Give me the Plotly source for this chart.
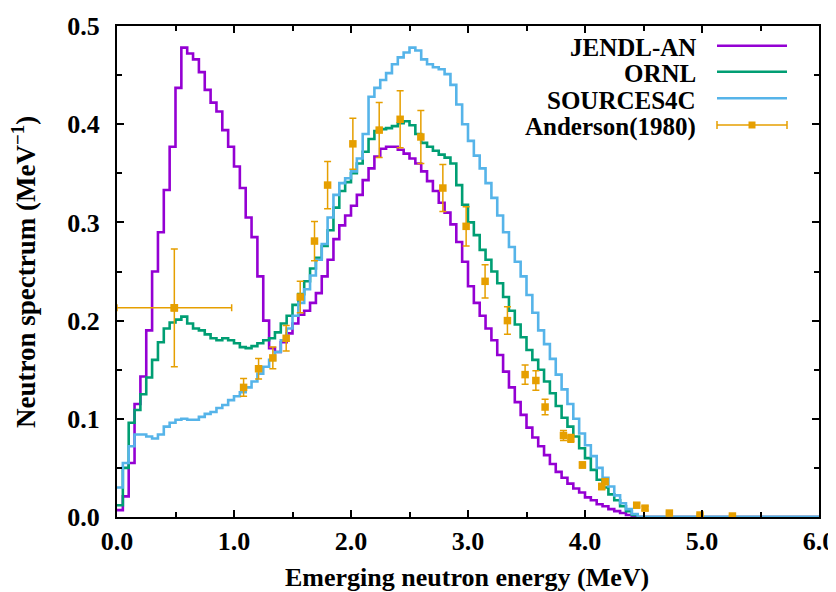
import plotly.graph_objects as go

# ---------------- data ----------------
bin_width = 0.05          # MeV, histogram bin width
x_max = 6.0

# Spectra per bin, bins start at 0.00, 0.05, ... 4.45 MeV
jendl_an = [
    0.007, 0.021, 0.055, 0.115, 0.143, 0.190, 0.250, 0.290, 0.333, 0.377,
    0.437, 0.478, 0.472, 0.466, 0.453, 0.435, 0.422, 0.413, 0.394, 0.377,
    0.357, 0.335, 0.305, 0.285, 0.245, 0.200, 0.172, 0.168, 0.178, 0.187,
    0.197, 0.206, 0.210, 0.218, 0.228, 0.245, 0.262, 0.283, 0.297, 0.307,
    0.317, 0.328, 0.343, 0.355, 0.367, 0.375, 0.377, 0.377, 0.374, 0.370,
    0.365, 0.360, 0.352, 0.342, 0.332, 0.320, 0.310, 0.298, 0.280, 0.260,
    0.235, 0.218, 0.205, 0.192, 0.180, 0.165, 0.148, 0.132, 0.117, 0.104,
    0.091, 0.081, 0.072, 0.063, 0.054, 0.046, 0.040, 0.034, 0.029, 0.025,
    0.020, 0.017, 0.013, 0.011, 0.008, 0.006, 0.004, 0.002, 0.001, 0.000,
]
ornl = [
    0.012, 0.050, 0.096, 0.109, 0.125, 0.142, 0.160, 0.178, 0.192, 0.198,
    0.201, 0.204, 0.197, 0.192, 0.190, 0.186, 0.182, 0.180, 0.182, 0.180,
    0.177, 0.173, 0.172, 0.174, 0.177, 0.180, 0.182, 0.188, 0.197, 0.205,
    0.216, 0.227, 0.240, 0.253, 0.264, 0.276, 0.292, 0.315, 0.332, 0.341,
    0.350, 0.360, 0.372, 0.385, 0.393, 0.395, 0.396, 0.398, 0.401, 0.403,
    0.399, 0.390, 0.381, 0.377, 0.373, 0.369, 0.366, 0.360, 0.338, 0.318,
    0.300, 0.287, 0.272, 0.262, 0.250, 0.238, 0.224, 0.210, 0.196, 0.183,
    0.170, 0.160, 0.150, 0.138, 0.126, 0.113, 0.101, 0.092, 0.082, 0.070,
    0.060, 0.048, 0.038, 0.030, 0.023, 0.017, 0.011, 0.006, 0.002, 0.000,
]
sources4c = [
    0.030, 0.055, 0.072, 0.084, 0.084, 0.082, 0.080, 0.084, 0.092, 0.096,
    0.099, 0.100, 0.099, 0.099, 0.102, 0.105, 0.107, 0.111, 0.114, 0.119,
    0.123, 0.127, 0.132, 0.138, 0.146, 0.153, 0.160, 0.168, 0.180, 0.192,
    0.205, 0.218, 0.232, 0.246, 0.262, 0.278, 0.305, 0.328, 0.340, 0.345,
    0.352, 0.365, 0.390, 0.428, 0.437, 0.445, 0.452, 0.461, 0.468, 0.473,
    0.478, 0.475, 0.466, 0.461, 0.458, 0.456, 0.451, 0.440, 0.420, 0.400,
    0.383, 0.368, 0.355, 0.340, 0.325, 0.307, 0.290, 0.275, 0.260, 0.245,
    0.226, 0.208, 0.190, 0.176, 0.161, 0.145, 0.130, 0.115, 0.100, 0.085,
    0.073, 0.062, 0.050, 0.040, 0.031, 0.022, 0.014, 0.008, 0.003, 0.000,
]

# Anderson (1980) measurement
anderson_e = [0.49, 1.082, 1.21, 1.332, 1.446, 1.566, 1.688, 1.80, 2.016, 2.241,
              2.42, 2.597, 2.785, 2.984, 3.146, 3.337, 3.488, 3.58, 3.659, 3.816,
              3.879, 3.978, 4.143, 4.172, 4.442, 4.513, 4.721, 4.983, 5.26]
anderson_y = [0.213, 0.132, 0.151, 0.162, 0.182, 0.224, 0.281, 0.338, 0.380, 0.394,
              0.405, 0.387, 0.335, 0.296, 0.240, 0.200, 0.145, 0.139, 0.112, 0.083,
              0.080, 0.053, 0.031, 0.036, 0.012, 0.009, 0.004, 0.002, 0.001]
anderson_yerr = [0.060, 0.009, 0.0105, 0.011, 0.013, 0.016, 0.020, 0.024, 0.026, 0.028,
                 0.029, 0.027, 0.024, 0.020, 0.017, 0.014, 0.0097, 0.010, 0.008, 0.005,
                 0.004, 0.003, 0.003, 0.003, 0.002, 0.002, 0.001, 0.001, 0.001]
anderson_first_xerr = 0.49

series_names = ["JENDL-AN", "ORNL", "SOURCES4C", "Anderson(1980)"]
tick_x = [0, 1, 2, 3, 4, 5, 6]
tick_y = [0.0, 0.1, 0.2, 0.3, 0.4, 0.5]

# ---------------- styling ----------------
colors = ["#9400D3", "#009E73", "#56B4E9", "#E69F00"]
FONT = "Liberation Serif"
FS = 26

bin_edges = [round(i * bin_width, 2) for i in range(len(jendl_an))]

fig = go.Figure()
for name, vals, col in zip(series_names[:3], [jendl_an, ornl, sources4c], colors[:3]):
    fig.add_trace(go.Scatter(
        x=bin_edges + [x_max], y=vals + [0.0], mode="lines", name=name,
        line=dict(color=col, width=2.6, shape="hv"), showlegend=False,
        hoverinfo="skip"))

# experimental points: vertical errors
fig.add_trace(go.Scatter(
    x=anderson_e, y=anderson_y, mode="markers", name=series_names[3],
    marker=dict(symbol="square", size=7.5, color=colors[3]),
    error_y=dict(type="data", array=anderson_yerr, color=colors[3], thickness=1.5, width=3.5),
    showlegend=False))
# horizontal error of the first point
fig.add_trace(go.Scatter(
    x=anderson_e[:1], y=anderson_y[:1], mode="markers",
    marker=dict(symbol="square", size=7.5, color=colors[3]),
    error_x=dict(type="data", array=[anderson_first_xerr], color=colors[3], thickness=1.5, width=3.5),
    showlegend=False))

axis_common = dict(
    showline=True, linecolor="black", linewidth=2, mirror="allticks",
    ticks="inside", ticklen=7, tickwidth=1.5, tickcolor="black",
    showgrid=False, zeroline=False,
    tickfont=dict(family=FONT, size=FS, color="black", weight="bold"),
)
fig.update_xaxes(range=[0, x_max], tickvals=tick_x, tickformat=".1f",
                 minor=dict(ticks="inside", ticklen=5, tickwidth=1.5, dtick=0.5,
                            tick0=0, tickcolor="black", showgrid=False),
                 ticklabelstandoff=0, **axis_common)
fig.update_yaxes(range=[0, 0.5], tickvals=tick_y, tickformat=".1f",
                 minor=dict(ticks="inside", ticklen=5, tickwidth=1.5, dtick=0.05,
                            tick0=0, tickcolor="black", showgrid=False),
                 ticklabelstandoff=10, **axis_common)

# page offset of the plot div (browser default body margin)
OFF = 8
W, H = 836 - OFF, 592 - OFF
L, R, T, B = 117 - OFF, 17, 26 - OFF, 75
pw, ph = W - L - R, H - T - B


def px_x(px):
    """reference page x pixel -> paper coordinate"""
    return (px - OFF - L) / pw


def px_y(py):
    """reference page y pixel -> paper coordinate"""
    return (H - B - (py - OFF)) / ph


annotations = [
    dict(text="Emerging neutron energy (MeV)", x=px_x(467), y=px_y(577),
         xref="paper", yref="paper", showarrow=False, xanchor="center", yanchor="middle",
         font=dict(family=FONT, size=FS, color="black", weight="bold")),
    dict(text="Neutron spectrum (MeV<sup>\u22121</sup>)", x=px_x(24), y=px_y(272),
         xref="paper", yref="paper", showarrow=False, xanchor="center", yanchor="middle",
         textangle=-90, font=dict(family=FONT, size=FS + 1, color="black", weight="bold")),
]
shapes = []
legend_rows = [45.7, 71.7, 98.3, 125]
for name, col, ry in zip(series_names, colors, legend_rows):
    annotations.append(dict(text=name, x=px_x(698), y=px_y(ry + 2), xref="paper", yref="paper",
                            showarrow=False, xanchor="right", yanchor="middle",
                            font=dict(family=FONT, size=FS - 1, color="black", weight="bold")))
    lw = 2.6 if name != "Anderson(1980)" else 1.5
    shapes.append(dict(type="line", xref="paper", yref="paper",
                       x0=px_x(717), x1=px_x(787), y0=px_y(ry), y1=px_y(ry),
                       line=dict(color=col, width=lw)))
# Anderson legend key: caps + square
ry = legend_rows[3]
for cx in (717, 787):
    shapes.append(dict(type="line", xref="paper", yref="paper",
                       x0=px_x(cx), x1=px_x(cx), y0=px_y(ry - 4), y1=px_y(ry + 4),
                       line=dict(color=colors[3], width=1.5)))
shapes.append(dict(type="rect", xref="paper", yref="paper",
                   x0=px_x(752 - 3.5), x1=px_x(752 + 3.5), y0=px_y(ry - 3.5), y1=px_y(ry + 3.5),
                   line=dict(color=colors[3], width=0), fillcolor=colors[3]))

fig.update_layout(
    width=W, height=H, margin=dict(l=L, r=R, t=T, b=B, autoexpand=False),
    paper_bgcolor="white", plot_bgcolor="white",
    annotations=annotations, shapes=shapes, showlegend=False,
)

fig.write_html("out.html", config={"displayModeBar": False})
